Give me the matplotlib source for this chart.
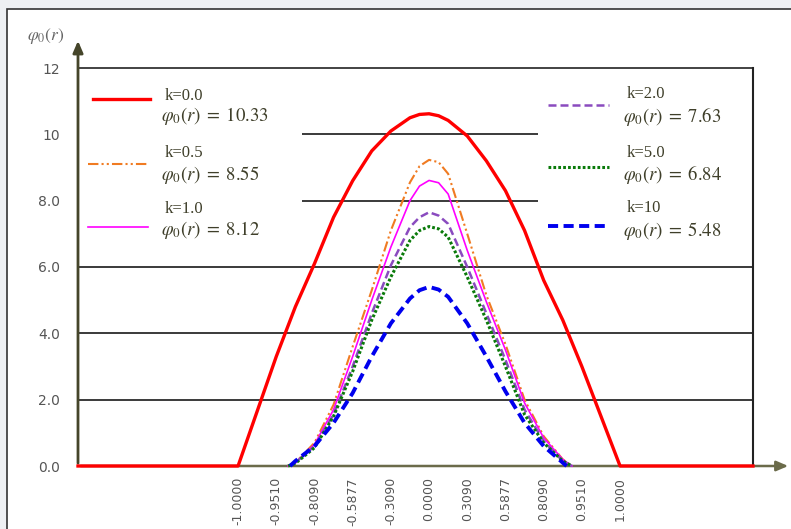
import matplotlib
matplotlib.use("Agg")
import matplotlib.pyplot as plt
from matplotlib.patches import Rectangle
from matplotlib.lines import Line2D

plt.rcParams['mathtext.fontset'] = 'stix'

# category positions: 0 -> r=-1.0000 ... 10 -> r=1.0000 (evenly spaced categories)
tick_pos = list(range(11))
tick_labels = ['-1.0000', '-0.9510', '-0.8090', '-0.5877', '-0.3090', '0.0000',
               '0.3090', '0.5877', '0.8090', '0.9510', '1.0000']

# k = 0.0 (runs flat along the axis outside [-1, 1])
u_k0 = [-4.19, 0, 0.5, 1, 1.5, 2, 2.5, 3, 3.5, 4, 4.5, 4.75, 5, 5.25, 5.5, 6,
        6.5, 7, 7.5, 8, 8.5, 9, 9.5, 10, 13.48]
v_k0 = [0, 0, 1.65, 3.3, 4.8, 6.1, 7.5, 8.6, 9.5, 10.1, 10.5, 10.6, 10.62, 10.56, 10.42, 9.95,
        9.2, 8.3, 7.1, 5.6, 4.4, 3.0, 1.5, 0, 0]

u_bell = [1.31, 1.5, 2, 2.5, 3, 3.5, 4, 4.5, 4.75, 5, 5.25, 5.5, 6, 6.5, 7, 7.5, 8, 8.5, 8.74]
v_k05 = [0, 0.1, 0.7, 1.85, 3.6, 5.3, 7.1, 8.55, 9.04, 9.23, 9.16, 8.81, 7.0, 5.15, 3.67, 2.0, 0.9, 0.2, 0]
v_k1 = [0, 0.1, 0.65, 1.7, 3.3, 5.0, 6.6, 8.0, 8.44, 8.61, 8.54, 8.2, 6.5, 4.95, 3.5, 1.9, 0.85, 0.2, 0]
v_k2 = [0, 0.1, 0.6, 1.55, 3.0, 4.6, 6.05, 7.2, 7.5, 7.65, 7.55, 7.3, 6.0, 4.6, 3.2, 1.7, 0.75, 0.15, 0]
v_k5 = [0, 0.08, 0.55, 1.5, 2.85, 4.4, 5.7, 6.8, 7.1, 7.22, 7.15, 6.9, 5.7, 4.4, 3.0, 1.55, 0.7, 0.15, 0]

u_k10 = [1.36, 1.5, 2, 2.5, 3, 3.5, 4, 4.5, 4.75, 5, 5.25, 5.5, 6, 6.5, 7, 7.5, 8, 8.5, 8.6]
v_k10 = [0, 0.15, 0.6, 1.3, 2.2, 3.3, 4.3, 5.05, 5.3, 5.4, 5.32, 5.1, 4.3, 3.3, 2.25, 1.3, 0.6, 0.1, 0]

k_labels = ['k=0.0', 'k=0.5', 'k=1.0', 'k=2.0', 'k=5.0', 'k=10']
phi_values = ['10.33', '8.55', '8.12', '7.63', '6.84', '5.48']

W, H = 791, 529
fig = plt.figure(figsize=(W / 100, H / 100), dpi=100, facecolor='#eef0f3')

# white panel with dark border
fig.add_artist(Rectangle((7 / W, -0.05), 1.1, 1 - 9 / H + 0.05, transform=fig.transFigure,
                         facecolor='white', edgecolor='#333333', lw=1.2, zorder=-5))

ax = fig.add_axes([78 / W, 1 - 466 / H, 675 / W, 398 / H])
ax.set_zorder(1)
ax.set_facecolor('none')
ax.set_xlim(u_k0[0], u_k0[-1])
ax.set_ylim(0, 12)

# horizontal grid
for g in [2, 4, 6, 8, 10]:
    ax.axhline(g, color='#3a3a3a', lw=1.4, zorder=1)

# white legend panels hide the grid behind them
ax.add_patch(Rectangle((0, 1 - (250 - 68) / 398), (302 - 78) / 675, (250 - 69) / 398,
                       transform=ax.transAxes, facecolor='white', edgecolor='none', zorder=2))
ax.add_patch(Rectangle(((538 - 78) / 675, 1 - (255 - 68) / 398), (752 - 538) / 675, (255 - 69) / 398,
                       transform=ax.transAxes, facecolor='white', edgecolor='none', zorder=2))

styles = [
    dict(color='#ff0000', lw=2.4, ls='-'),
    dict(color='#f07b22', lw=1.5, dashes=[5, 1.5, 1, 1.5, 1, 1.5]),
    dict(color='#ff00ff', lw=1.2, ls='-'),
    dict(color='#8a4bbf', lw=1.8, dashes=[3.2, 1.6]),
    dict(color='#0a7a0a', lw=2.2, dashes=[0.9, 0.7]),
    dict(color='#0000ee', lw=2.8, dashes=[2.6, 1.4]),
]
series = [(u_k0, v_k0), (u_bell, v_k05), (u_bell, v_k1), (u_bell, v_k2), (u_bell, v_k5), (u_k10, v_k10)]
for (u, v), st in zip(series, styles):
    ax.plot(u, v, zorder=4, clip_on=False, solid_joinstyle='round', dash_joinstyle='round', **st)

# spines
for s in ['top', 'right']:
    ax.spines[s].set_color('#222222')
ax.spines['top'].set_linewidth(1.2)
ax.spines['right'].set_linewidth(1.5)
ax.spines['left'].set_visible(False)
ax.spines['bottom'].set_visible(False)
ax.annotate('', xy=(0, (466 - 38) / 398), xytext=(0, 0), xycoords='axes fraction',
            arrowprops=dict(arrowstyle='-|>,head_length=0.7,head_width=0.3', color='#45452a', lw=2.0))
ax.annotate('', xy=((791 - 78) / 675, 0), xytext=(0, 0), xycoords='axes fraction',
            arrowprops=dict(arrowstyle='-|>,head_length=0.7,head_width=0.3', color='#6b6b4a', lw=1.8),
            zorder=3)

ax.set_yticks([0, 2, 4, 6, 8, 10, 12])
ax.set_yticklabels(['0.0', '2.0', '4.0', '6.0', '8.0', '10', '12'])
ax.tick_params(axis='y', length=0, pad=13, labelsize=10, labelcolor='#555555')
ax.set_xticks(tick_pos)
ax.set_xticklabels(tick_labels, rotation=90, fontsize=9, color='#555555')
ax.tick_params(axis='x', length=0, pad=8)

fig.text(27 / W, 1 - 36 / H, r'$\varphi_0(r)$', fontsize=12.5, color='#666666', va='center', ha='left')

# legend entries: two columns, handle + two text lines
txt_color = '#3f3f2a'
left_col = [(99, 116, 96), (164, 175, 153), (227, 230, 209)]
right_col = [(105, 116, 94), (167, 175, 153), (226, 231, 208)]
entries = [(88, 148, 165, 161, y) for y in left_col] + [(548, 609, 627, 623, y) for y in right_col]
for i, (x0, x1, xk, xp, (yh, yp, yk)) in enumerate(entries):
    x0 = 93 if i == 0 else x0
    x1 = 150 if i == 0 else x1
    fig.add_artist(Line2D([x0 / W, x1 / W], [1 - yh / H, 1 - yh / H], transform=fig.transFigure,
                          zorder=5, **styles[i]))
    fig.text(xk / W, 1 - yk / H, k_labels[i], family='Liberation Serif', fontsize=12,
             color=txt_color, va='center', ha='left', zorder=5)
    fig.text(xp / W, 1 - yp / H, r'$\varphi_0(r)\;=\;' + phi_values[i] + '$',
             fontsize=13.5, color=txt_color, va='center', ha='left', zorder=5)

fig.savefig('out.png', dpi=100, facecolor=fig.get_facecolor())
